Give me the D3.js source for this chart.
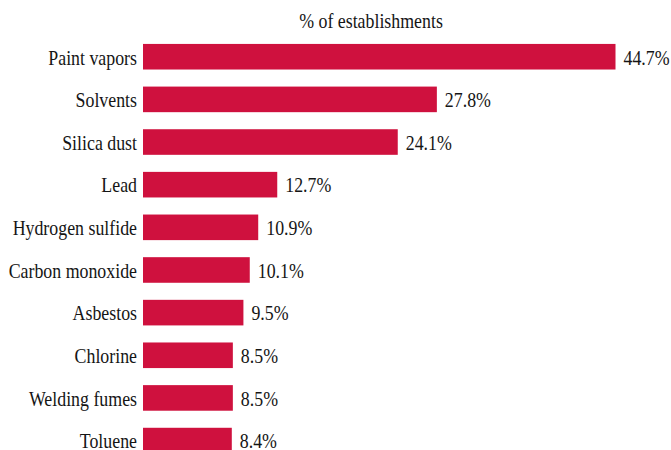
<!DOCTYPE html>
<html><head><meta charset="utf-8">
<script src="https://cdn.jsdelivr.net/npm/d3@7"></script>
<style>body{margin:0;background:#fff}svg{display:block}
text{font-family:"Liberation Serif","Times New Roman",Times,serif}</style>
</head><body>
<script>
const categories = ["Paint vapors","Solvents","Silica dust","Lead","Hydrogen sulfide","Carbon monoxide","Asbestos","Chlorine","Welding fumes","Toluene"];
const values = [44.7,27.8,24.1,12.7,10.9,10.1,9.5,8.5,8.5,8.4];
const labels = ["44.7%","27.8%","24.1%","12.7%","10.9%","10.1%","9.5%","8.5%","8.5%","8.4%"];
const title = "% of establishments";

const W = 671, H = 450;
const svg = d3.select("body").append("svg").attr("width", W).attr("height", H);
const x = d3.scaleLinear().domain([0, 44.7]).range([143, 615.5]);
const y = d3.scaleBand().domain(categories).range([35.4, 461.9]).paddingInner(0.4).paddingOuter(0.2);
const SX = 0.83, FS = 21.5;

svg.selectAll("rect.bar").data(categories).join("rect")
  .attr("x", x(0)).attr("y", d => y(d))
  .attr("width", (d,i) => x(values[i]) - x(0))
  .attr("height", y.bandwidth())
  .attr("fill", "#CF113E");

function txt(s, tx, ty, anchor) {
  svg.append("text").attr("transform", `translate(${tx},${ty}) scale(${SX},1)`)
    .attr("text-anchor", anchor).style("font-size", FS + "px")
    .attr("fill", "#151515").text(s);
}
categories.forEach((c,i) => {
  const cy = y(c) + y.bandwidth()/2 + 7.8;
  txt(c, x(0) - 6, cy, "end");
  txt(labels[i], x(values[i]) + 8, cy, "start");
});
txt(title, 371, 28.3, "middle");
</script>
</body></html>
